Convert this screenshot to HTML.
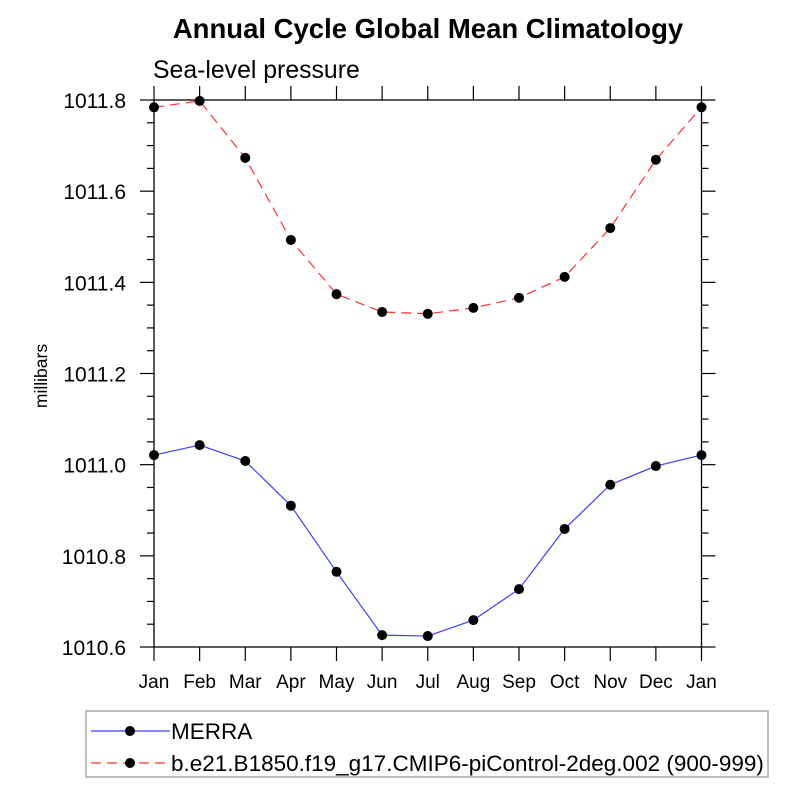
<!DOCTYPE html>
<html><head><meta charset="utf-8"><style>
body{margin:0;background:#fff}
svg text{font-family:"Liberation Sans",sans-serif}
</style></head><body>
<svg id="c" width="800" height="800">
<text x="428" y="38" text-anchor="middle" font-size="27.5" font-weight="bold">Annual Cycle Global Mean Climatology</text>
<text x="153" y="78" font-size="24.8">Sea-level pressure</text>
<text transform="translate(47,376) rotate(-90)" text-anchor="middle" font-size="17.5">millibars</text>
<g id="axes"></g>
<g id="series"></g>
<rect x="86" y="711" width="682" height="66" fill="none" stroke="#aaa" stroke-width="1.5"/>
<g>
<line x1="91" y1="731" x2="170" y2="731" stroke="#3c3cff" stroke-width="1.2"/>
<circle cx="130" cy="731" r="5" fill="#000"/>
<text x="171" y="739" font-size="22.5">MERRA</text></g>
<g>
<line x1="91" y1="763" x2="170" y2="763" stroke="#ff3030" stroke-width="1.2" stroke-dasharray="10,6"/>
<circle cx="130" cy="763" r="5" fill="#000"/>
<text x="171" y="771" font-size="22.5">b.e21.B1850.f19_g17.CMIP6-piControl-2deg.002 (900-999)</text></g>
</svg>
<script>
const months=["Jan","Feb","Mar","Apr","May","Jun","Jul","Aug","Sep","Oct","Nov","Dec","Jan"];
const merra=[1011.021,1011.043,1011.008,1010.910,1010.765,1010.626,1010.624,1010.659,1010.727,1010.859,1010.956,1010.997,1011.021];
const model=[1011.784,1011.798,1011.673,1011.493,1011.374,1011.335,1011.331,1011.344,1011.366,1011.412,1011.519,1011.669,1011.784];
const yTicks=["1010.6","1010.8","1011.0","1011.2","1011.4","1011.6","1011.8"];
const X0=154,X1=701.5,Y0=647,Y1=100,YMIN=1010.6,YMAX=1011.8;
const sx=i=>X0+(X1-X0)*i/12;
const sy=v=>Y0-(Y0-Y1)*(v-YMIN)/(YMAX-YMIN);
const NS="http://www.w3.org/2000/svg";
function mk(t,a,p){const e=document.createElementNS(NS,t);for(const k in a)e.setAttribute(k,a[k]);p.appendChild(e);return e;}
const ax=document.getElementById('axes');
const frame=mk('rect',{x:X0,y:Y1,width:X1-X0,height:Y0-Y1,fill:'none',stroke:'#000','stroke-width':1.3},ax);


months.forEach((m,i)=>{
  const x=sx(i);
  mk('line',{x1:x,y1:Y0,x2:x,y2:Y0+14,stroke:'#000','stroke-width':1.2},ax);
  mk('line',{x1:x,y1:Y1,x2:x,y2:Y1-14,stroke:'#000','stroke-width':1.2},ax);
  const t=mk('text',{x:x,y:Y0+41,'text-anchor':'middle','font-size':19},ax);
  t.textContent=m;
  
  
});
for(let k=0;k<=24;k++){
  const v=YMIN+k*0.05,y=sy(v),maj=k%4===0,len=maj?14:7;
  mk('line',{x1:X0,y1:y,x2:X0-len,y2:y,stroke:'#000','stroke-width':1.2},ax);
  mk('line',{x1:X1,y1:y,x2:X1+len,y2:y,stroke:'#000','stroke-width':1.2},ax);
}
yTicks.forEach(s=>{
  const t=mk('text',{x:X0-28,y:sy(parseFloat(s))+8,'text-anchor':'end','font-size':21},ax);
  t.textContent=s;
  
  
});
const sg=document.getElementById('series');
function draw(vals,col,dash,name){
  const g=mk('g',{},sg);
  
  
  const pl=mk('polyline',{points:vals.map((v,i)=>sx(i)+','+sy(v)).join(' '),fill:'none',stroke:col,'stroke-width':1.2},g);
  if(dash)pl.setAttribute('stroke-dasharray',dash);
  vals.forEach((v,i)=>{
    const c=mk('circle',{cx:sx(i),cy:sy(v),r:5,fill:'#000'},g);
    
    
  });
}
draw(merra,'#3c3cff',null,'merra-series');
draw(model,'#ff3030','10,6','model-series');
</script>
</body></html>
